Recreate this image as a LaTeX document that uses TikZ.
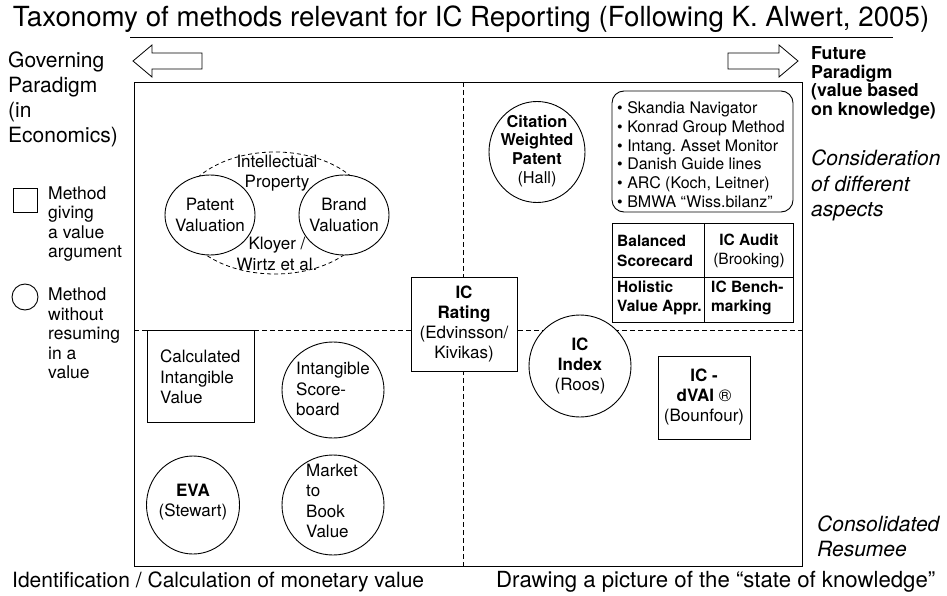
\documentclass[tikz,border=0pt]{standalone}
\usepackage{fontspec}
\setmainfont{TeX Gyre Heros}
\usetikzlibrary{shapes.geometric}
\frenchspacing
\begin{document}
\begin{tikzpicture}[x=1pt,y=-1pt,
  shp/.style={draw, line width=0.9pt, fill=white, inner sep=0pt},
  ring/.style={shp, ellipse},
  quad/.style={draw, line width=0.9pt, dash pattern=on 5pt off 3pt},
  lbl/.style={inner sep=0pt, align=center, font=\fontsize{17}{20.3}\selectfont},
  lbll/.style={lbl, align=left},
  tab/.style={inner sep=0pt, align=left, font=\fontsize{15.5}{19.5}\selectfont},
  lst/.style={inner sep=0pt, align=left, font=\fontsize{16}{18.7}\selectfont},
  big/.style={inner sep=0pt, align=left, font=\fontsize{21}{25}\selectfont},
  leg/.style={inner sep=0pt, align=left, font=\fontsize{17.5}{19.5}\selectfont},
  arrowbody/.style={draw, line width=0.8pt, fill=white}
]
\useasboundingbox (0,0) rectangle (947,596);

% title and rule
\node[inner sep=0pt, font=\fontsize{27.7}{30}\selectfont] (title) at (471,19)
  {Taxonomy of methods relevant for IC Reporting (Following K. Alwert, 2005)};
\draw[line width=1pt] (130,38) -- (893,38);

% paradigm arrows
\draw[arrowbody] (202,53) -- (152,53) -- (152,45) -- (133,61) -- (152,77) -- (152,69) -- (202,69) -- cycle;
\draw[arrowbody] (728,53) -- (779,53) -- (779,45) -- (798,61) -- (779,77) -- (779,69) -- (728,69) -- cycle;

% side texts
\node[big, anchor=west] (govern) at (8,99.5) {Governing\\Paradigm\\(in\\Economics)};
\node[inner sep=0pt, align=left, anchor=west, font=\bfseries\fontsize{17.8}{18.4}\selectfont] (future) at (811,83)
  {Future\\Paradigm\\(value based\\on knowledge)};
\node[big, anchor=west, font=\itshape\fontsize{21}{25.5}\selectfont] (consid) at (811,185.5)
  {Consideration\\of different\\aspects};
\node[big, anchor=west, font=\itshape\fontsize{21}{25}\selectfont] (consol) at (817,536)
  {Consolidated\\Resumee};
\node[big, anchor=west] (identif) at (12,582) {Identification / Calculation of monetary value};
\node[big, anchor=west, font=\fontsize{22.2}{25}\selectfont] (drawing) at (496,582) {Drawing a picture of the “state of knowledge”};

% legend
\node[shp, minimum width=24pt, minimum height=24pt] (legsq) at (25,200) {};
\node[leg, anchor=west] (legsqt) at (48,224) {Method\\giving\\a value\\argument};
\node[shp, circle, minimum size=26pt] (legci) at (25,297) {};
\node[leg, anchor=west] (legcit) at (48,333.5) {Method\\without\\resuming\\in a\\value};

% frame and quadrant dividers
\draw[line width=0.9pt] (134,82) rectangle (802,566);
\coordinate (vtop) at (463,82);
\coordinate (vbot) at (463,566);
\coordinate (hleft) at (134,330);
\coordinate (hright) at (802,330);
\draw[quad] (vtop) -- (vbot);
\draw[quad] (hleft) -- (hright);

% upper left: intellectual property
\node[ellipse, draw, line width=0.8pt, dash pattern=on 4pt off 3pt, minimum width=190pt, minimum height=122pt, inner sep=0pt] (ipell) at (275,213) {};
\node[ring, minimum width=90pt, minimum height=80pt] (patent) at (210,215) {};
\node[ring, minimum width=90pt, minimum height=80pt] (brand) at (344,215) {};
\node[lbl] (patentt) at (patent) {Patent\\Valuation};
\node[lbl] (brandt) at (brand) {Brand\\Valuation};
\node[lbl] (ipt) at (277,173) {Intellectual\\Property};
\node[lbl] (kloyer) at (277,254) {Kloyer /\\Wirtz et al.};

% lower left
\node[shp, minimum width=107pt, minimum height=92pt] (civ) at (200.5,376) {};
\node[lbll, anchor=west] (civt) at (160,377) {Calculated\\Intangible\\Value};
\node[ring, minimum width=102pt, minimum height=96pt] (iscore) at (333,390) {};
\node[lbll, anchor=west] (iscoret) at (296,389) {Intangible\\Score-\\board};
\node[ring, minimum width=93pt, minimum height=98pt] (eva) at (193,505) {};
\node[lbl] (evat) at (193,502) {\textbf{EVA}\\(Stewart)};
\node[ring, minimum width=102pt, minimum height=100pt] (mtbv) at (333,505) {};
\node[lbll, anchor=west] (mtbvt) at (306,501) {Market\\to\\Book\\Value};

% centre
\node[shp, minimum width=106pt, minimum height=94pt] (icrating) at (464,324) {};
\node[lbl] (icratingt) at (icrating) {\textbf{IC}\\\textbf{Rating}\\(Edvinsson/\\Kivikas)};

% upper right
\node[ring, minimum width=96pt, minimum height=101pt] (cwp) at (537,152) {};
\node[lbl, font=\fontsize{16.3}{18.8}\selectfont] (cwpt) at (537,151) {\textbf{Citation}\\\textbf{Weighted}\\\textbf{Patent}\\(Hall)};
\draw[line width=0.9pt, rounded corners=12pt] (612,91) rectangle (793,212);
\node[lst, anchor=west] (methods) at (617,154.5)
  {• Skandia Navigator\\• Konrad Group Method\\• Intang. Asset Monitor\\• Danish Guide lines\\• ARC (Koch, Leitner)\\• BMWA “Wiss.bilanz”};
\draw[line width=0.9pt] (612,223) rectangle (793,322);
\coordinate (tabtop) at (704,223);
\coordinate (tabbot) at (704,322);
\coordinate (tabl) at (612,277);
\coordinate (tabr) at (793,277);
\draw[line width=0.9pt] (tabtop) -- (tabbot);
\draw[line width=0.9pt] (tabl) -- (tabr);
\node[tab, anchor=west, font=\bfseries\fontsize{15.5}{19.5}\selectfont] (bsc) at (617,251) {Balanced\\Scorecard};
\node[tab, align=center] (icaudit) at (749,251) {\textbf{IC Audit}\\(Brooking)};
\node[tab, anchor=west, font=\bfseries\fontsize{15.5}{19.5}\selectfont] (hva) at (617,298) {Holistic\\Value Appr.};
\node[tab, anchor=west, font=\bfseries\fontsize{15.5}{19.5}\selectfont] (icbench) at (711,298) {IC Bench-\\marking};

% lower right
\node[ring, minimum width=102pt, minimum height=102pt] (icindex) at (580,366) {};
\node[lbl] (icindext) at (580,366) {\textbf{IC}\\\textbf{Index}\\(Roos)};
\node[shp, minimum width=92pt, minimum height=83pt] (dvai) at (704,397.5) {};
\node[lbl] (dvait) at (704,397) {\textbf{IC -}\\\textbf{dVAI} ®\\(Bounfour)};
\end{tikzpicture}
\end{document}
